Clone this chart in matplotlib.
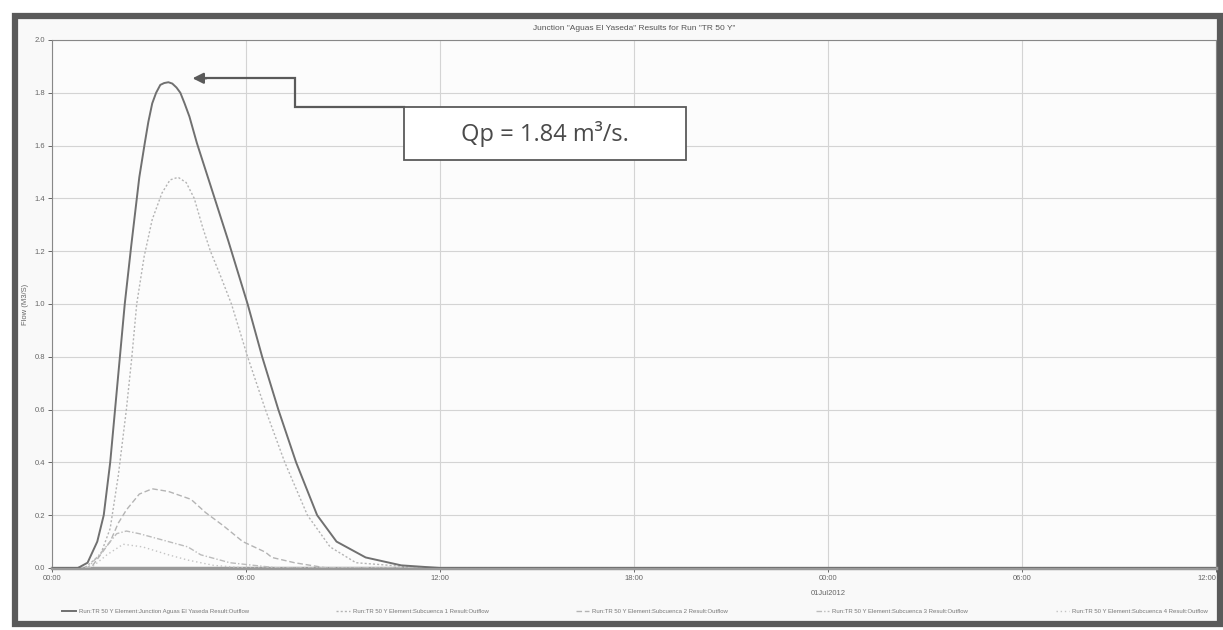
import matplotlib
matplotlib.use("Agg")
from matplotlib import pyplot as plt
from matplotlib.patches import Rectangle


plt.rcParams.update({
    "font.family": ["Liberation Sans", "DejaVu Sans"],
    "axes.linewidth": 0.8,
})

W, H = 1223, 630

# hours from start of the simulation
TICKS_H = [0, 6, 12, 18, 24, 30, 36]
TICK_LABELS = ["00:00", "06:00", "12:00", "18:00", "00:00", "06:00", "12:00"]
DATE_LABEL = "01Jul2012"

# outflow at the junction (solid)
main_t = [0, 0.8, 1.1, 1.4, 1.6, 1.8, 1.95, 2.1, 2.25, 2.45, 2.7, 2.87, 2.98, 3.1,
          3.22, 3.35, 3.47, 3.6, 3.72, 3.85, 3.97, 4.1, 4.25, 4.48, 4.9, 5.45,
          6.05, 6.5, 7.0, 7.55, 8.2, 8.8, 9.7, 10.8, 12.0, 36]
main_q = [0, 0, 0.02, 0.1, 0.2, 0.4, 0.6, 0.8, 1.0, 1.22, 1.48, 1.61, 1.69, 1.76,
          1.80, 1.83, 1.837, 1.84, 1.835, 1.82, 1.80, 1.76, 1.71, 1.61, 1.45, 1.24,
          1.0, 0.8, 0.6, 0.4, 0.2, 0.1, 0.04, 0.01, 0, 0]

# sub-basin hydrographs
sub1_t = [0, 1.0, 1.5, 1.8, 2.05, 2.3, 2.47, 2.62, 2.85, 3.1, 3.4, 3.65, 3.9, 4.15,
          4.4, 4.66, 4.9, 5.2, 5.55, 6.05, 6.6, 7.2, 7.9, 8.6, 9.4, 11.5, 36]
sub1_q = [0, 0, 0.05, 0.15, 0.35, 0.6, 0.8, 1.0, 1.18, 1.32, 1.42, 1.47, 1.48, 1.46,
          1.40, 1.29, 1.2, 1.11, 1.0, 0.8, 0.6, 0.4, 0.2, 0.08, 0.02, 0, 0]

sub2_t = [0, 1.2, 1.5, 1.8, 2.05, 2.3, 2.7, 3.1, 3.6, 4.3, 4.75, 5.3, 5.6, 5.9,
          6.6, 6.8, 7.5, 8.5, 36]
sub2_q = [0, 0, 0.05, 0.1, 0.17, 0.22, 0.28, 0.30, 0.29, 0.26, 0.21, 0.16, 0.13,
          0.10, 0.06, 0.04, 0.02, 0, 0]

sub3_t = [0, 1.1, 1.6, 2.0, 2.3, 2.7, 3.3, 4.2, 4.6, 5.5, 7.0, 36]
sub3_q = [0, 0, 0.07, 0.13, 0.14, 0.13, 0.11, 0.08, 0.05, 0.02, 0, 0]

sub4_t = [0, 1.2, 1.7, 2.2, 2.8, 3.6, 4.2, 5.0, 6.0, 36]
sub4_q = [0, 0, 0.05, 0.09, 0.08, 0.05, 0.03, 0.01, 0, 0]

QP = 1.84

LEGEND = [
    "Run:TR 50 Y Element:Junction Aguas El Yaseda Result:Outflow",
    "Run:TR 50 Y Element:Subcuenca 1 Result:Outflow",
    "Run:TR 50 Y Element:Subcuenca 2 Result:Outflow",
    "Run:TR 50 Y Element:Subcuenca 3 Result:Outflow",
    "Run:TR 50 Y Element:Subcuenca 4 Result:Outflow",
]
TITLE = 'Junction "Aguas El Yaseda" Results for Run "TR 50 Y"'


def fx(x):
    return x / W


def fy(y):
    return 1 - y / H


def main():
    fig = plt.figure(figsize=(W / 100, H / 100), dpi=100)
    fig.patch.set_facecolor("white")

    # scanned page border
    fig.patches.append(Rectangle((fx(15), fy(624)), fx(1220) - fx(15), fy(16) - fy(624),
                                 transform=fig.transFigure, facecolor="#f9f9f9",
                                 edgecolor="#5a5a5a", lw=4.5, zorder=-5))

    ax = fig.add_axes([fx(52), fy(568), fx(1216) - fx(52), fy(40) - fy(568)])
    ax.set_facecolor("#fcfcfc")

    ax.plot(main_t, main_q, color="#707070", lw=1.4, label=LEGEND[0], zorder=5)
    ax.plot(sub1_t, sub1_q, color="#b4b4b4", lw=1.0, ls=(0, (1.5, 1.5)), label=LEGEND[1], zorder=4)
    ax.plot(sub2_t, sub2_q, color="#b4b4b4", lw=1.0, ls=(0, (4, 2)), label=LEGEND[2], zorder=4)
    ax.plot(sub3_t, sub3_q, color="#bcbcbc", lw=1.0, ls=(0, (4, 1.5, 1, 1.5)), label=LEGEND[3], zorder=4)
    ax.plot(sub4_t, sub4_q, color="#c4c4c4", lw=1.0, ls=(0, (1, 2)), label=LEGEND[4], zorder=4)

    ax.set_xlim(0, 36)
    ax.set_ylim(0, 2.0)
    ax.set_xticks(TICKS_H)
    ax.set_xticklabels(TICK_LABELS)
    ax.get_xticklabels()[-1].set_horizontalalignment("right")
    ax.set_yticks([i / 5 for i in range(11)])
    ax.set_yticklabels([f"{i / 5:.1f}" for i in range(11)])
    ax.tick_params(labelsize=5.5, colors="#666", length=3, width=0.7, pad=2)
    ax.grid(True, color="#d4d4d4", lw=0.8)
    ax.set_axisbelow(True)
    for side in ["left", "right", "top"]:
        ax.spines[side].set_color("#888")
    ax.spines["bottom"].set_color("#9a9a9a")
    ax.spines["bottom"].set_linewidth(2.5)

    ax.set_ylabel("Flow (M3/S)", fontsize=5.5, color="#666", labelpad=4)
    ax.set_title(TITLE, fontsize=6, color="#555", pad=7)
    ax.text(24, -0.085, DATE_LABEL, fontsize=5.5, color="#666", ha="center", va="top")

    # peak annotation
    tip_t, elbow_t, box_l, box_r = 4.26, 7.5, 10.9, 19.6
    low_y, box_b = 1.745, 1.545
    ax.plot([box_l, elbow_t, elbow_t, tip_t + 0.3], [low_y, low_y, QP + 0.015, QP + 0.015],
            color="#5a5a5a", lw=1.6, zorder=6, solid_joinstyle="miter")
    ax.annotate("", xy=(tip_t, QP + 0.015), xytext=(tip_t + 0.6, QP + 0.015),
                arrowprops=dict(arrowstyle="-|>", mutation_scale=16, color="#5a5a5a", lw=1.6),
                zorder=6)
    ax.add_patch(Rectangle((box_l, box_b), box_r - box_l, low_y - box_b,
                           facecolor="white", edgecolor="#5a5a5a", lw=1.3, zorder=6))
    ax.text((box_l + box_r) / 2, (box_b + low_y) / 2, "Qp = 1.84 m\u00b3/s.",
            fontsize=17, color="#4a4a4a", ha="center", va="center", zorder=7,
            family="Open Sans")

    fig.legend(loc="lower left", bbox_to_anchor=(fx(60), fy(616), fx(1150), fy(600) - fy(616)),
               mode="expand", ncol=5, frameon=False, fontsize=4.3, handlelength=2.2,
               labelcolor="#777", borderaxespad=0, handletextpad=0.5)

    fig.savefig("out.png", dpi=100)


main()
